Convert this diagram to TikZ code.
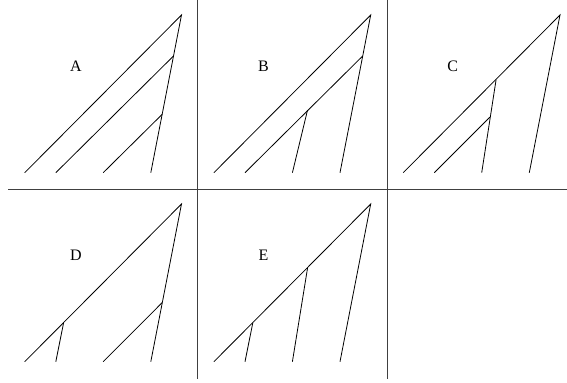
\documentclass[tikz,border=0pt]{standalone}
\usepackage{fontspec}
\setmainfont{Liberation Serif}
\begin{document}
\begin{tikzpicture}[x=0.75pt,y=-0.75pt,
  branch/.style={draw=black,line width=0.6pt},
  gridline/.style={draw=black!75,line width=0.7pt},
  lbl/.style={font=\fontsize{12}{14}\selectfont,inner sep=0pt}]
\useasboundingbox (0,0) rectangle (567,382);
% grid
\coordinate (h1) at (8,189); \coordinate (h2) at (567,189);
\coordinate (v1t) at (197.5,0); \coordinate (v1b) at (197.5,379);
\coordinate (v2t) at (387,0); \coordinate (v2b) at (387,379);
\draw[gridline] (h1) -- (h2);
\draw[gridline] (v1t) -- (v1b);
\draw[gridline] (v2t) -- (v2b);
% common leaves per panel
\newcommand{\leaves}{%
  \coordinate (r) at (181.5,15);
  \coordinate (l1) at (24.7,172.7);
  \coordinate (l2) at (55.8,172.7);
  \coordinate (l3) at (103.2,172.7);
  \coordinate (l4) at (150.8,172.7);}
% Panel A
\begin{scope}[shift={(0,0)}]
  \leaves
  \node[lbl] (la) at (76,66) {A};
  \coordinate (a1) at (173.5,56);
  \coordinate (a2) at (162.2,114.3);
  \draw[branch] (l1) -- (r) -- (l4);
  \draw[branch] (l2) -- (a1);
  \draw[branch] (l3) -- (a2);
\end{scope}
% Panel B
\begin{scope}[shift={(189.2,0)}]
  \leaves
  \node[lbl] (lb) at (74.2,66) {B};
  \coordinate (b1) at (173.5,56);
  \coordinate (b2) at (118.3,110.2);
  \draw[branch] (l1) -- (r) -- (l4);
  \draw[branch] (l2) -- (b1);
  \draw[branch] (l3) -- (b2);
\end{scope}
% Panel C
\begin{scope}[shift={(378.5,0)}]
  \leaves
  \node[lbl] (lc) at (74.2,66) {C};
  \coordinate (c1) at (117.6,79.6);
  \coordinate (c2) at (111.3,117.2);
  \draw[branch] (l1) -- (r) -- (l4);
  \draw[branch] (l3) -- (c1);
  \draw[branch] (l2) -- (c2);
\end{scope}
% Panel D
\begin{scope}[shift={(0,189)}]
  \leaves
  \node[lbl] (ld) at (76,66) {D};
  \coordinate (d1) at (63.6,133.8);
  \coordinate (d2) at (162.1,113.7);
  \draw[branch] (l1) -- (r) -- (l4);
  \draw[branch] (l2) -- (d1);
  \draw[branch] (l3) -- (d2);
\end{scope}
% Panel E
\begin{scope}[shift={(189.2,189)}]
  \leaves
  \node[lbl] (le) at (74.2,66) {E};
  \coordinate (e1) at (63.6,133.8);
  \coordinate (e2) at (118.4,78.7);
  \draw[branch] (l1) -- (r) -- (l4);
  \draw[branch] (l2) -- (e1);
  \draw[branch] (l3) -- (e2);
\end{scope}
\end{tikzpicture}
\end{document}
